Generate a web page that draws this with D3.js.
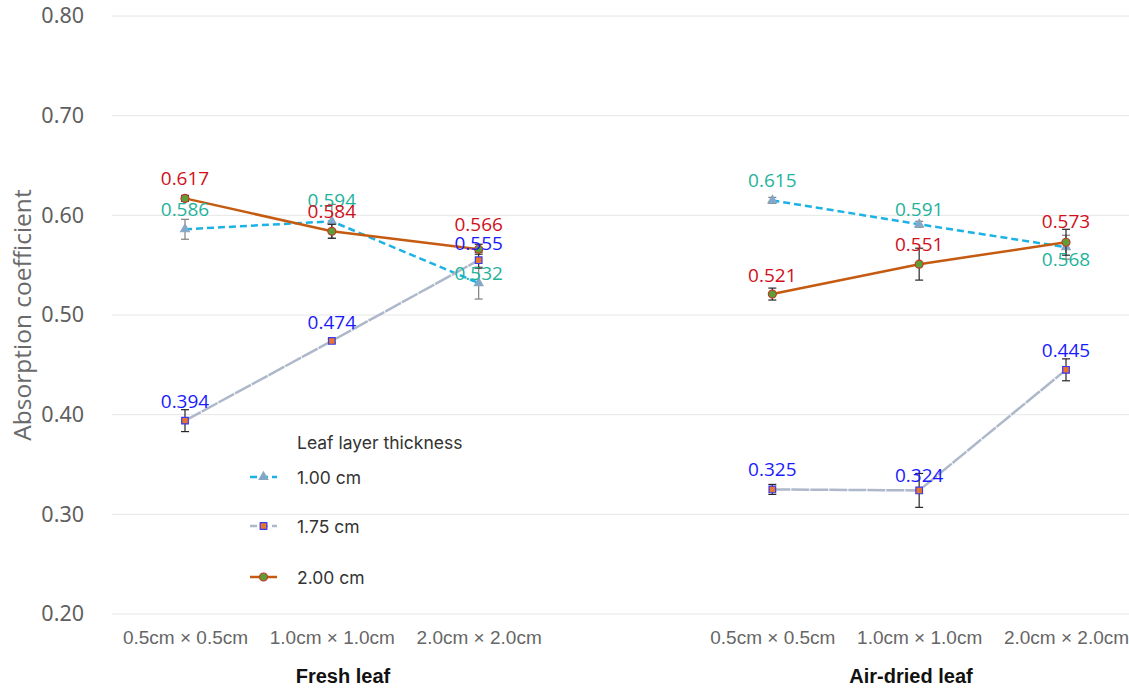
<!DOCTYPE html>
<html>
<head>
<meta charset="utf-8">
<script src="https://cdn.jsdelivr.net/npm/d3@7"></script>
<style>
  html, body { margin: 0; padding: 0; background: #fff; }
  svg { display: block; }
</style>
</head>
<body>
<svg id="chart" width="1129" height="691"></svg>
<script>
// Leaf sample size categories within each leaf condition
const categories = ["0.5cm × 0.5cm", "1.0cm × 1.0cm", "2.0cm × 2.0cm"];
const groups = ["Fresh leaf", "Air-dried leaf"];
const seriesNames = ["1.00 cm", "1.75 cm", "2.00 cm"];
const yTicks = [0.20, 0.30, 0.40, 0.50, 0.60, 0.70, 0.80];

// Mean absorption coefficient: fresh (3 sizes) then air-dried (3 sizes)
const thick100 = [0.586, 0.594, 0.532, 0.615, 0.591, 0.568];
const thick175 = [0.394, 0.474, 0.555, 0.325, 0.324, 0.445];
const thick200 = [0.617, 0.584, 0.566, 0.521, 0.551, 0.573];

// Standard deviation for each mean
const err100 = [0.010, 0.017, 0.016, 0.003, 0.003, 0.012];
const err175 = [0.011, 0.002, 0.008, 0.005, 0.017, 0.011];
const err200 = [0.003, 0.007, 0.005, 0.006, 0.016, 0.013];

const svg = d3.select("#chart");
const W = 1129;

// Slot keys: three sizes per group with an empty slot between groups
const slots = ["f0", "f1", "f2", "gap", "a0", "a1", "a2"];
const pointSlots = ["f0", "f1", "f2", "a0", "a1", "a2"];
const x = d3.scalePoint().domain(slots).range([185, 1066]);
const y = d3.scaleLinear().domain([0.2, 0.8]).range([614, 16]);

// Gridlines
svg.append("g").selectAll("line").data(yTicks).join("line")
  .attr("x1", 112).attr("x2", W)
  .attr("y1", d => y(d)).attr("y2", d => y(d))
  .attr("stroke", "#e6e6e6").attr("stroke-width", 1);

// Y axis
const yAxis = svg.append("g").attr("transform", "translate(84,0)")
  .call(d3.axisLeft(y).tickValues(yTicks).tickFormat(d3.format(".2f")).tickSize(0).tickPadding(0));
yAxis.select(".domain").remove();
yAxis.selectAll("text")
  .attr("font-family", "'Noto Sans', 'Open Sans', sans-serif")
  .attr("font-size", 21.5).attr("fill", "#5f5f5f");

svg.append("text")
  .attr("transform", "translate(21,315) rotate(-90)")
  .attr("text-anchor", "middle").attr("dominant-baseline", "central")
  .attr("font-family", "'Open Sans', 'Noto Sans', sans-serif")
  .attr("font-size", 24.5).attr("fill", "#6a6a6a")
  .text("Absorption coefficient");

// X axis: size categories
const catOf = s => categories[+s.slice(1)];
const xAxis = svg.append("g").attr("transform", "translate(0,630)")
  .call(d3.axisBottom(x).tickValues(pointSlots).tickFormat(catOf).tickSize(0).tickPadding(0));
xAxis.select(".domain").remove();
xAxis.selectAll("text")
  .attr("dy", "0.72em")
  .attr("font-family", "'Liberation Sans Narrow', 'Liberation Sans', sans-serif")
  .attr("font-size", 19).attr("fill", "#666");

// Group labels
const groupX = [343, 911];
svg.append("g").selectAll("text").data(groups).join("text")
  .attr("x", (d, i) => groupX[i]).attr("y", 683)
  .attr("text-anchor", "middle")
  .attr("font-family", "'Liberation Sans Narrow', 'Liberation Sans', sans-serif")
  .attr("font-weight", "bold")
  .attr("font-size", 20).attr("fill", "#111")
  .text(d => d);

const series = [
  { name: seriesNames[0], values: thick100, errs: err100, line: "#1cb2e6", dash: "7,4",
    marker: "triangle", fill: "#7ea9cf", mstroke: "#8aa6bf", label: "#1fb39c", errColor: "#808080",
    labelDy: [-20, -21, -10, -20, -15, 12] },
  { name: seriesNames[1], values: thick175, errs: err175, line: "#adb8ca", dash: "18,1",
    marker: "square", fill: "#e8762e", mstroke: "#3a3af0", label: "#1a1aff", errColor: "#262626",
    labelDy: [-20, -19, -17, -20, -15, -20] },
  { name: seriesNames[2], values: thick200, errs: err200, line: "#c55a11", dash: null,
    marker: "circle", fill: "#5e9e36", mstroke: "#c0392b", label: "#d0101a", errColor: "#262626",
    labelDy: [-20, -20, -25, -19, -20, -21] }
];

const symGen = {
  triangle: d3.symbol().type(d3.symbolTriangle).size(32),
  square: d3.symbol().type(d3.symbolSquare).size(44),
  circle: d3.symbol().type(d3.symbolCircle).size(50)
};

function drawMarker(g, s, cx, cy) {
  g.append("path")
    .attr("d", symGen[s.marker]())
    .attr("transform", `translate(${cx},${cy})`)
    .attr("fill", s.fill).attr("stroke", s.mstroke).attr("stroke-width", 1.2);
}

const lineGen = d3.line().x(d => x(d.slot)).y(d => y(d.v));

series.forEach(s => {
  const pts = s.values.map((v, i) => ({ slot: pointSlots[i], v, e: s.errs[i], i }));
  const g = svg.append("g");
  // error bars
  const eb = g.append("g").attr("stroke", s.errColor).attr("stroke-width", 1.2);
  pts.forEach(p => {
    const cx = x(p.slot);
    eb.append("line").attr("x1", cx).attr("x2", cx).attr("y1", y(p.v + p.e)).attr("y2", y(p.v - p.e));
    eb.append("line").attr("x1", cx - 4).attr("x2", cx + 4).attr("y1", y(p.v + p.e)).attr("y2", y(p.v + p.e));
    eb.append("line").attr("x1", cx - 4).attr("x2", cx + 4).attr("y1", y(p.v - p.e)).attr("y2", y(p.v - p.e));
  });
  // one line per leaf condition
  [pts.slice(0, 3), pts.slice(3)].forEach(seg => {
    g.append("path").datum(seg)
      .attr("d", lineGen).attr("fill", "none")
      .attr("stroke", s.line).attr("stroke-width", 2.5)
      .attr("stroke-dasharray", s.dash);
  });
  pts.forEach(p => drawMarker(g, s, x(p.slot), y(p.v)));
  s.pts = pts;
});

// Value labels
series.forEach(s => {
  svg.append("g").selectAll("text").data(s.pts).join("text")
    .attr("x", d => x(d.slot))
    .attr("y", d => y(d.v) + s.labelDy[d.i])
    .attr("text-anchor", "middle").attr("dominant-baseline", "central")
    .attr("font-family", "'Open Sans', 'Noto Sans', sans-serif")
    .attr("font-size", 19).attr("fill", s.label)
    .text(d => d3.format(".3f")(d.v));
});

// Legend
const legend = svg.append("g").attr("font-family", "'Inter', 'Roboto', sans-serif").attr("fill", "#333");
legend.append("text").attr("x", 297).attr("y", 442).attr("dominant-baseline", "central")
  .attr("font-size", 17.5).text("Leaf layer thickness");
const legendY = [477, 526, 577];
series.forEach((s, i) => {
  const ly = legendY[i];
  legend.append("line").attr("x1", 250).attr("x2", 277).attr("y1", ly).attr("y2", ly)
    .attr("stroke", s.line).attr("stroke-width", 2.5)
    .attr("stroke-dasharray", s.dash ? "7,4" : null);
  drawMarker(legend, s, 263.5, ly);
  legend.append("text").attr("x", 297).attr("y", ly).attr("dominant-baseline", "central")
    .attr("font-size", 17.5).text(s.name);
});
</script>
</body>
</html>
